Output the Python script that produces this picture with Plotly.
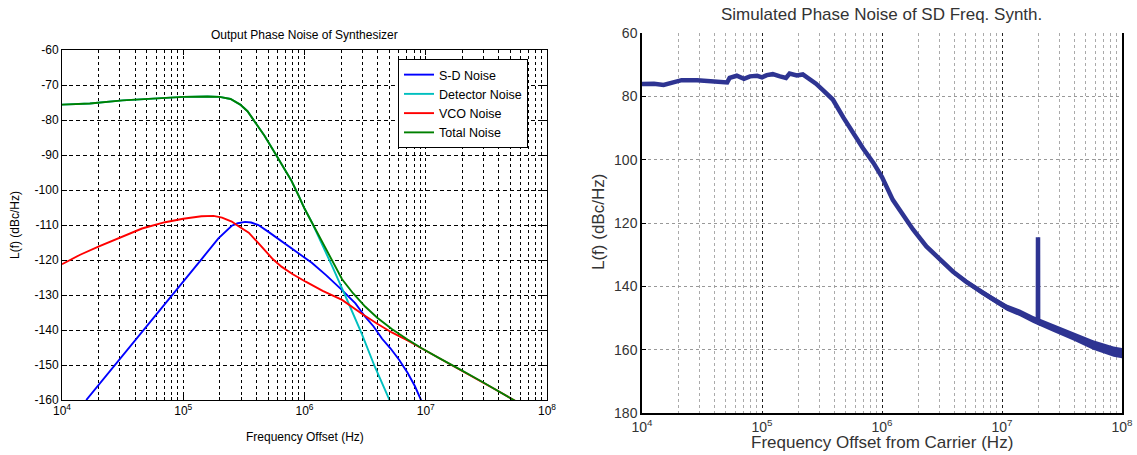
import numpy as np
import plotly.graph_objects as go

# ---------------- Left chart data (log10 of frequency offset, dBc/Hz) ----------------
sd_logf = [4.2, 4.4, 4.6, 4.8, 5.0, 5.15, 5.29, 5.4, 5.45, 5.51, 5.56, 5.62, 5.7, 5.83, 5.95,
           6.06, 6.18, 6.31, 6.42, 6.5, 6.57, 6.64, 6.71, 6.78, 6.85, 6.91, 6.96, 6.98]
sd_db = [-160, -151.6, -143.2, -134.8, -126.4, -119.8, -113.8, -110.2, -109.5, -109.1, -109.3,
         -110, -111.9, -115, -118.1, -120.8, -124.4, -128.6, -132.4, -136.2, -139.0, -142.5,
         -145.3, -148.5, -152.2, -156.0, -160, -161.5]

det_logf = [4.0, 4.23, 4.5, 4.8, 5.0, 5.2, 5.3, 5.39, 5.47, 5.53, 5.59, 5.67, 5.74, 5.82, 5.89,
            5.95, 6.0, 6.06, 6.09, 6.15, 6.23, 6.34, 6.47, 6.58, 6.69, 6.72]
det_db = [-75.6, -75.3, -74.4, -73.7, -73.4, -73.3, -73.4, -74.0, -75.6, -77.5, -80.5, -84.5,
          -88.5, -93.0, -97.2, -101.5, -105.3, -109.2, -111.4, -116.0, -121.9, -130.5, -140.9,
          -150.5, -159.0, -161.5]

vco_logf = [4.0, 4.15, 4.3, 4.5, 4.66, 4.85, 5.0, 5.15, 5.25, 5.32, 5.4, 5.45, 5.54, 5.62, 5.67,
            5.74, 5.81, 5.9, 6.01, 6.15, 6.31, 6.47, 6.6, 6.72, 6.85, 6.97, 7.1, 7.2, 7.3, 7.45,
            7.6, 7.7, 7.75]
vco_db = [-121.2, -118.5, -116.2, -113.2, -111.0, -109.2, -108.2, -107.5, -107.4, -107.9, -109.0,
          -110.2, -112.2, -115.2, -117.1, -119.8, -121.9, -124.0, -126.2, -128.8, -131.4, -135.3,
          -138.2, -140.7, -143.0, -145.3, -147.8, -149.6, -151.6, -154.5, -157.5, -159.5, -160.5]

tot_logf = [4.0, 4.23, 4.5, 4.8, 5.0, 5.2, 5.3, 5.39, 5.47, 5.53, 5.59, 5.67, 5.74, 5.82, 5.89,
            5.95, 6.0, 6.06, 6.12, 6.18, 6.24, 6.31, 6.4, 6.5, 6.6, 6.72, 6.85, 6.97, 7.1, 7.2,
            7.3, 7.45, 7.6, 7.7, 7.75]
tot_db = [-75.6, -75.3, -74.4, -73.7, -73.4, -73.3, -73.4, -74.0, -75.6, -77.5, -80.5, -84.5,
          -88.5, -93.0, -97.2, -101.5, -105.3, -109.2, -113.2, -117.2, -121.2, -125.5, -129.5,
          -133.3, -136.5, -139.7, -142.7, -145.3, -147.8, -149.6, -151.6, -154.5, -157.5,
          -159.5, -160.5]

left_names = ["S-D Noise", "Detector Noise", "VCO Noise", "Total Noise"]
left_colors = ["#0000ff", "#00bfbf", "#ff0000", "#008000"]
left_yticks = list(range(-160, -59, 10))
left_yticktext = ["%d" % v for v in left_yticks]

# ---------------- Right chart data (log10 of frequency offset, dBc/Hz magnitude) ----------------
r_logf = [4.0, 4.1, 4.18, 4.26, 4.33, 4.46, 4.57, 4.71, 4.73, 4.79, 4.85, 4.9, 4.96, 5.0, 5.04,
          5.09, 5.15, 5.2, 5.23, 5.29, 5.34, 5.4, 5.45, 5.51, 5.59, 5.68, 5.76, 5.84, 5.93, 6.0,
          6.09, 6.18, 6.26, 6.37, 6.48, 6.59, 6.7, 6.82, 6.93, 7.04, 7.15, 7.26, 7.299, 7.3,
          7.301, 7.43, 7.6, 7.76, 7.93, 8.0]
r_val = [76.1, 76.0, 76.4, 75.6, 74.9, 74.9, 75.1, 75.6, 74.2, 73.5, 74.5, 73.7, 73.5, 74.0, 73.3,
         73.0, 73.7, 74.2, 72.8, 73.4, 73.1, 74.7, 76.0, 78.1, 81.0, 86.8, 91.6, 96.3, 101.1, 105.5,
         112.7, 117.9, 122.1, 127.4, 131.6, 135.3, 138.5, 141.6, 144.2, 146.7, 148.4, 150.5, 151.3,
         124.5, 151.3, 153.2, 155.8, 158.5, 160.6, 161.1]

band_logf = [6.0, 6.09, 6.18, 6.26, 6.37, 6.48, 6.59, 6.7, 6.82, 6.93, 7.04, 7.15, 7.26, 7.43,
             7.6, 7.76, 7.93, 8.0]
band_hi = [105.2, 112.35, 117.5, 121.65, 126.9, 131.05, 134.65, 137.75, 140.75, 143.25, 145.7,
           147.35, 149.4, 152.0, 154.45, 157.0, 159.0, 159.5]
band_lo = [105.8, 113.05, 118.3, 122.55, 127.9, 132.15, 135.95, 139.25, 142.45, 145.15, 147.7,
           149.45, 151.6, 154.4, 157.15, 160.0, 162.2, 162.7]
right_yticks = list(range(60, 181, 20))

decades = [4, 5, 6, 7, 8]
decade_text = ["10<sup>%d</sup>" % d for d in decades]

navy = "#2e3492"

fig = go.Figure()

series = [(sd_logf, sd_db), (det_logf, det_db), (vco_logf, vco_db), (tot_logf, tot_db)]
for (lf, db), name, col in zip(series, left_names, left_colors):
    fig.add_trace(go.Scatter(x=10 ** np.array(lf), y=db, mode="lines", name=name,
                             line=dict(color=col, width=1.9), xaxis="x", yaxis="y"))

fig.add_trace(go.Scatter(x=10 ** np.array(band_logf), y=band_hi, mode="lines",
                         line=dict(color=navy, width=0), showlegend=False,
                         xaxis="x2", yaxis="y2", hoverinfo="skip"))
fig.add_trace(go.Scatter(x=10 ** np.array(band_logf), y=band_lo, mode="lines",
                         line=dict(color=navy, width=0), fill="tonexty", fillcolor=navy,
                         showlegend=False, xaxis="x2", yaxis="y2", hoverinfo="skip"))
fig.add_trace(go.Scatter(x=10 ** np.array(r_logf), y=r_val, mode="lines",
                         line=dict(color=navy, width=4.5), showlegend=False,
                         xaxis="x2", yaxis="y2"))

minor_vals = [m * 10 ** d for d in range(4, 8) for m in range(2, 10)]

W, H = 1137, 455
def px(x):
    return x / W
def py(y):
    return 1 - y / H

FAM = "Liberation Sans, Arial, sans-serif"
left_font = dict(family=FAM, size=12, color="black")
right_font = dict(family=FAM, size=14, color="#333333")
right_title_font = dict(family=FAM, size=17, color="#333333")

fig.update_layout(
    width=W, height=H,
    margin=dict(l=0, r=0, t=0, b=0, autoexpand=False),
    paper_bgcolor="white", plot_bgcolor="white",
    font=left_font,
    showlegend=True,
    legend=dict(x=px(398), y=py(59), xanchor="left", yanchor="top", traceorder="normal",
                bgcolor="white", bordercolor="black", borderwidth=1,
                font=dict(family=FAM, size=12.5, color="black"),
                tracegroupgap=0, itemwidth=30),
    xaxis=dict(type="log", range=[4, 8], domain=[px(62), px(547)], anchor="y",
               automargin=False,
               showline=True, linecolor="black", linewidth=1, mirror="allticks",
               ticks="inside", ticklen=5, tickcolor="black",
               tickvals=[10 ** d for d in decades], ticktext=decade_text,
               tickfont=left_font,
               showgrid=True, gridcolor="black", griddash="dot", gridwidth=1,
               minor=dict(tickvals=minor_vals, ticks="inside", ticklen=3, tickcolor="black",
                          showgrid=True, gridcolor="black", griddash="dot", gridwidth=1),
               zeroline=False),
    yaxis=dict(range=[-160, -60], domain=[py(400), py(50)], anchor="x",
               automargin=False,
               tickvals=left_yticks, ticktext=left_yticktext,
               showline=True, linecolor="black", linewidth=1, mirror="allticks",
               ticks="inside", ticklen=5, tickcolor="black", tickfont=left_font,
               showgrid=True, gridcolor="black", griddash="4px,3px", gridwidth=1,
               zeroline=False),
    xaxis2=dict(type="log", range=[4, 8], domain=[px(642), px(1122)], anchor="y2",
                automargin=False,
                showline=True, linecolor="black", linewidth=1.5, mirror=False,
                ticks="", tickvals=[10 ** d for d in decades], ticktext=decade_text,
                tickfont=right_font,
                showgrid=True, gridcolor="#222222", griddash="dot", gridwidth=1,
                minor=dict(tickvals=minor_vals, ticks="", showgrid=True,
                           gridcolor="#aaaaaa", griddash="dot", gridwidth=1),
                zeroline=False),
    yaxis2=dict(range=[180, 60], domain=[py(413), py(33)], anchor="x2",
                automargin=False,
                tickvals=right_yticks,
                showline=True, linecolor="black", linewidth=1.5, mirror=True,
                ticks="inside", ticklen=4, tickcolor="black", tickfont=right_font,
                showgrid=True, gridcolor="#999999", griddash="dot", gridwidth=1,
                zeroline=False),
    annotations=[
        dict(text="Output Phase Noise of Synthesizer", x=px(304.5), y=py(35), xref="paper",
             yref="paper", showarrow=False, xanchor="center", yanchor="middle",
             font=left_font),
        dict(text="Frequency Offset (Hz)", x=px(304.5), y=py(437), xref="paper",
             yref="paper", showarrow=False, xanchor="center", yanchor="middle",
             font=left_font),
        dict(text="L(f) (dBc/Hz)", x=px(15), y=py(225), xref="paper", yref="paper",
             showarrow=False, xanchor="center", yanchor="middle", textangle=-90,
             font=left_font),
        dict(text="Simulated Phase Noise of SD Freq. Synth.", x=px(882), y=py(15),
             xref="paper", yref="paper", showarrow=False, xanchor="center",
             yanchor="middle", font=right_title_font),
        dict(text="Frequency Offset from Carrier (Hz)", x=px(882), y=py(442),
             xref="paper", yref="paper", showarrow=False, xanchor="center",
             yanchor="middle", font=right_title_font),
        dict(text="L(f) (dBc/Hz)", x=px(598), y=py(222), xref="paper", yref="paper",
             showarrow=False, xanchor="center", yanchor="middle", textangle=-90,
             font=right_title_font),
    ],
)

# Remove the browser's default 8px body margin so the figure fills the window exactly.
fig.write_html("out.html", config={"displayModeBar": False},
               post_script="document.body.style.margin='0';")
